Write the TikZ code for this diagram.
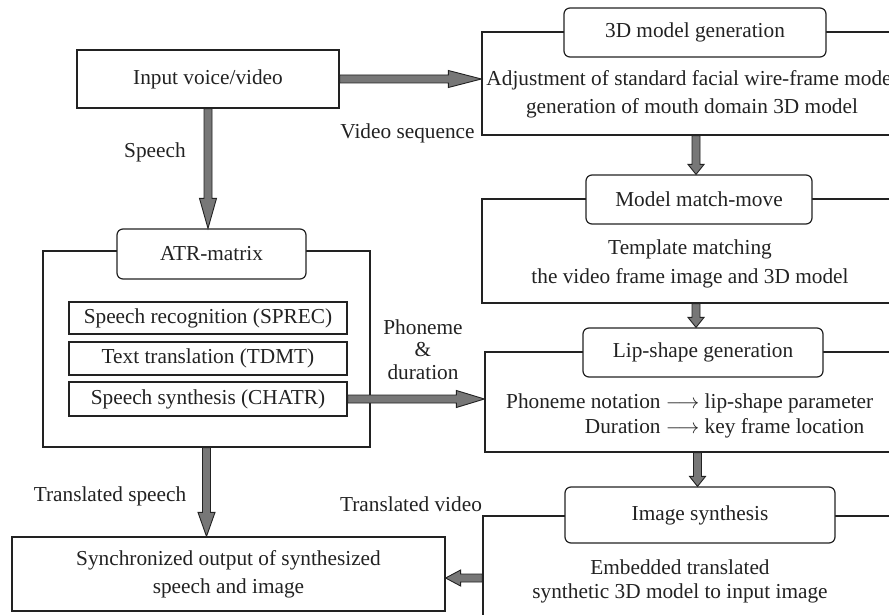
\documentclass[tikz,border=0pt]{standalone}
\usepackage{fontspec}
\setmainfont{Liberation Serif}
\usetikzlibrary{calc}
\definecolor{lc}{HTML}{222222}
\definecolor{ag}{HTML}{777777}
\tikzset{
  box/.style={draw=lc, line width=1.2pt, fill=white, inner sep=0pt,
    font=\fontsize{21.3}{28}\selectfont, align=center, text=lc},
  title/.style={box, rounded corners=6pt},
  txt/.style={font=\fontsize{21.3}{28}\selectfont, align=center, inner sep=0pt, text=lc},
  fatarrow/.style={draw=lc, fill=ag, line width=0.9pt, line join=miter},
}
\newcommand\fatarrow[4]{%
  \draw[fatarrow] let \p1=(#1), \p2=(#2),
    \n1={veclen(\x2-\x1,\y2-\y1)}, \n2={atan2(\y2-\y1,\x2-\x1)} in
    [shift={(\p1)}, rotate=\n2]
    (0pt,-4pt) -- ({\n1-#3pt},-4pt) -- ({\n1-#3pt},-#4pt) -- (\n1,0pt)
    -- ({\n1-#3pt},#4pt) -- ({\n1-#3pt},4pt) -- (0pt,4pt) -- cycle;
}
\begin{document}
\begin{tikzpicture}[x=1pt, y=-1pt]
\useasboundingbox (0,0) rectangle (889,615);
\clip (0,0) rectangle (889,615);
\fill[white] (0,0) rectangle (889,615);

% left column
\node[box, minimum width=262pt, minimum height=58pt] (input) at (208,79) {Input voice/video};
\node[box, minimum width=327pt, minimum height=196pt] (atrbox) at (206.5,349) {};
\node[title, minimum width=189pt, minimum height=50pt] (atr) at (211.5,254) {ATR-matrix};
\node[box, minimum width=278pt, minimum height=32pt] (sprec) at (208,318) {Speech recognition (SPREC)};
\node[box, minimum width=278pt, minimum height=33pt] (tdmt) at (208,358.5) {Text translation (TDMT)};
\node[box, minimum width=278pt, minimum height=34pt] (chatr) at (208,399) {Speech synthesis (CHATR)};
\node[box, minimum width=433pt, minimum height=74pt] (out) at (228.5,574) {Synchronized output of synthesized\\speech and image};

% right column
\node[box, minimum width=428pt, minimum height=103pt] (box1) at (696,83.5) {};
\node[title, minimum width=262pt, minimum height=49pt] (t1) at (695,32.5) {3D model generation};
\node[txt] (x1) at (692,94) {Adjustment of standard facial wire-frame model\\generation of mouth domain 3D model};

\node[box, minimum width=428pt, minimum height=104pt] (box2) at (696,251) {};
\node[title, minimum width=226pt, minimum height=49pt] (t2) at (699,199.5) {Model match-move};
\node[txt, font=\fontsize{21.3}{29}\selectfont] (x2) at (690,263.5) {Template matching\\the video frame image and 3D model};

\node[box, minimum width=425pt, minimum height=100pt] (box3) at (697.5,402) {};
\node[title, minimum width=240pt, minimum height=49pt] (t3) at (703,352.5) {Lip-shape generation};
\node[txt, anchor=west, font=\fontsize{21.3}{25}\selectfont] (x3) at (506,415.5)
  {\begin{tabular}{@{}r@{}l@{}}Phoneme notation $\longrightarrow$ & \ lip-shape parameter\\
   Duration $\longrightarrow$ & \ key frame location\end{tabular}};

\node[box, minimum width=427pt, minimum height=124pt] (box4) at (696.5,578) {};
\node[title, minimum width=270pt, minimum height=56pt] (t4) at (700,515) {Image synthesis};
\node[txt, font=\fontsize{21.3}{24}\selectfont] (x4) at (680,581) {Embedded translated\\synthetic 3D model to input image};

% labels
\node[txt] (lspeech) at (155,152) {Speech};
\node[txt] (lvideo) at (407.5,133) {Video sequence};
\node[txt, font=\fontsize{21.3}{22.5}\selectfont] (lphon) at (423,349.5) {Phoneme\\\&\\duration};
\node[txt] (ltrs) at (110,496) {Translated speech};
\node[txt] (ltrv) at (411,504) {Translated video};

% arrows
\fatarrow{input.east}{box1.west|-input.east}{33}{8.5}
\fatarrow{input.south}{input.south|-atr.north}{30}{8.5}
\fatarrow{chatr.east}{box3.west|-chatr.east}{28}{8.5}
\fatarrow{atrbox.south}{atrbox.south|-out.north}{24}{8.5}
\fatarrow{box1.south}{box1.south|-t2.north}{10}{8}
\fatarrow{box2.south}{box2.south|-t3.north}{10}{8}
\fatarrow{box3.south}{box3.south|-t4.north}{10}{8}
\fatarrow{box4.west}{out.east|-box4.west}{15}{8}
\end{tikzpicture}
\end{document}
